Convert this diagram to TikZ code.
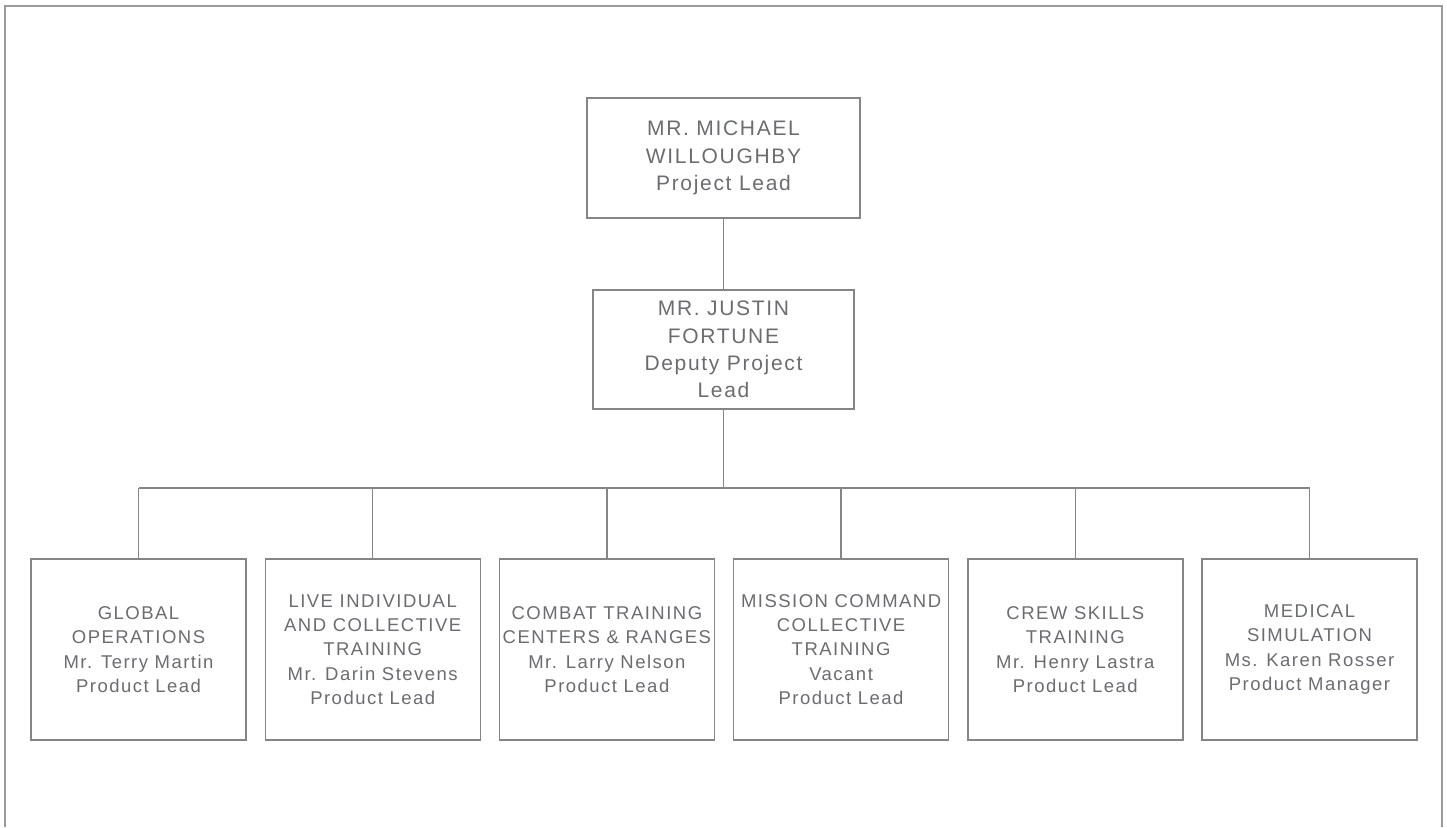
\documentclass[tikz,border=0pt]{standalone}
\usepackage{fontspec}
\newfontfamily\boxfont[LetterSpace=8]{Liberation Sans}
\definecolor{txtgray}{HTML}{6B6C70}
\definecolor{linegray}{HTML}{858585}
\definecolor{framegray}{HTML}{9A9A9A}
\tikzset{
  orgbox/.style={draw=linegray, line width=1.4pt, text=txtgray, align=center, inner sep=0pt},
  headbox/.style={orgbox, font=\boxfont\fontsize{21}{27.3}\selectfont},
  leafbox/.style={orgbox, minimum width=215pt, minimum height=181pt, font=\boxfont\fontsize{18.5}{24.3}\selectfont},
  conn/.style={draw=linegray, line width=1.4pt}
}
\begin{document}
\begin{tikzpicture}[x=1pt,y=-1pt]
\useasboundingbox (0,0) rectangle (1447,827);
\draw[framegray, line width=2pt] (4.5,827) -- (4.5,5.5) -- (1442,5.5) -- (1442,827);

\node[headbox, minimum width=273pt, minimum height=120pt] (top) at (723.5,158) {MR. MICHAEL\\WILLOUGHBY\\Project Lead};
\node[headbox, minimum width=261pt, minimum height=119pt] (mid) at (723.5,349.5) {MR. JUSTIN\\FORTUNE\\Deputy Project\\Lead};

\node[leafbox] (c1) at (138.5,649.5) {GLOBAL\\OPERATIONS\\Mr. Terry Martin\\Product Lead};
\node[leafbox] (c2) at (372.7,649.5) {LIVE INDIVIDUAL\\AND COLLECTIVE\\TRAINING\\Mr. Darin Stevens\\Product Lead};
\node[leafbox] (c3) at (606.9,649.5) {COMBAT TRAINING\\CENTERS \& RANGES\\Mr. Larry Nelson\\Product Lead};
\node[leafbox] (c4) at (841.1,649.5) {MISSION COMMAND\\COLLECTIVE\\TRAINING\\Vacant\\Product Lead};
\node[leafbox] (c5) at (1075.3,649.5) {CREW SKILLS\\TRAINING\\Mr. Henry Lastra\\Product Lead};
\node[leafbox] (c6) at (1309.5,649.5) {MEDICAL\\SIMULATION\\Ms. Karen Rosser\\Product Manager};

\coordinate (busC) at (723.5,488);
\coordinate (busL) at (138.5,488);
\coordinate (busR) at (1309.5,488);

\draw[conn] (top.south) -- (mid.north);
\draw[conn] (mid.south) -- (busC);
\draw[conn] (busL) -- (busR);
\foreach \c in {c1,c2,c3,c4,c5,c6}
  \draw[conn] (\c.north) -- (\c.north |- busC);
\end{tikzpicture}
\end{document}
